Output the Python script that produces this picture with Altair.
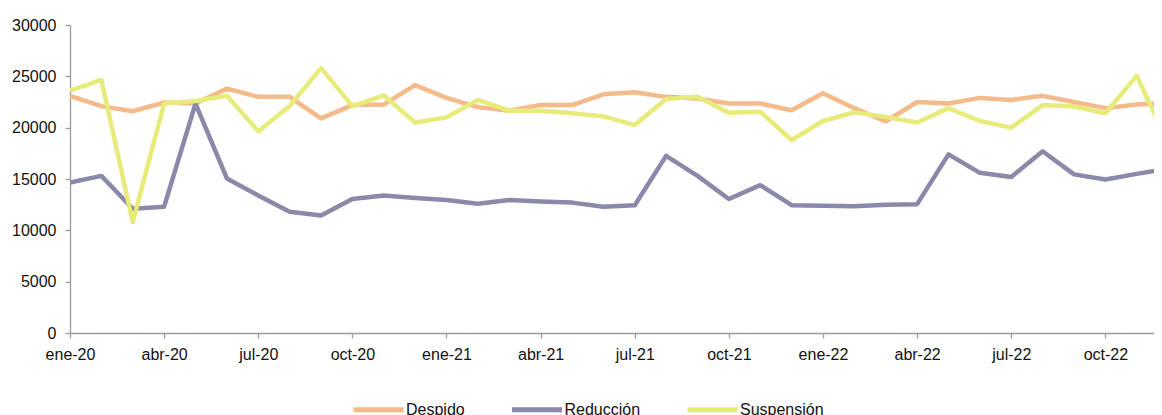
import altair as alt
import pandas as pd

months = ['ene-20', 'feb-20', 'mar-20', 'abr-20', 'may-20', 'jun-20', 'jul-20', 'ago-20', 'sep-20', 'oct-20', 'nov-20', 'dic-20',
          'ene-21', 'feb-21', 'mar-21', 'abr-21', 'may-21', 'jun-21', 'jul-21', 'ago-21', 'sep-21', 'oct-21', 'nov-21', 'dic-21',
          'ene-22', 'feb-22', 'mar-22', 'abr-22', 'may-22', 'jun-22', 'jul-22', 'ago-22', 'sep-22', 'oct-22', 'nov-22', 'dic-22']

despido = [23100, 22100, 21600, 22450, 22350, 23800, 23000, 23000, 20900, 22200, 22250, 24150,
           22900, 22000, 21650, 22200, 22200, 23250, 23450, 23000, 22850, 22350, 22350, 21700,
           23350, 21900, 20600, 22500, 22350, 22900, 22700, 23100, 22500, 21900, 22250, 22400]

reduccion = [14650, 15300, 12100, 12300, 22350, 15050, 13400, 11800, 11450, 13050, 13400, 13150,
             12950, 12600, 12950, 12800, 12700, 12300, 12450, 17250, 15300, 13050, 14400, 12450,
             12400, 12350, 12500, 12550, 17400, 15600, 15200, 17700, 15450, 14950, 15500, 16000]

suspension = [23600, 24650, 10800, 22350, 22600, 23100, 19650, 22100, 25800, 22100, 23150, 20500,
              21000, 22700, 21650, 21650, 21400, 21100, 20250, 22800, 23000, 21450, 21550, 18800,
              20650, 21500, 21050, 20500, 21900, 20650, 20000, 22200, 22050, 21400, 25050, 18500]

series_names = ['Despido', 'Reducción', 'Suspensión']
series_colors = ['#F4BA8A', '#8B89A9', '#E7EB79']

rows = []
for name, vals in zip(series_names, [despido, reduccion, suspension]):
    for i, v in enumerate(vals):
        rows.append({'idx': i, 'mes': months[i], 'serie': name, 'valor': v})
df = pd.DataFrame(rows)

label_arr = "[" + ",".join("'" + m + "'" for m in months) + "][datum.value]"
font = "Liberation Sans, Arial, sans-serif"

chart = alt.Chart(df).mark_line(strokeWidth=4.5, clip=True, strokeJoin='round').encode(
    x=alt.X('idx:Q',
            scale=alt.Scale(domain=[0, 34.55], nice=False, zero=False),
            axis=alt.Axis(title=None, values=list(range(0, 34, 3)), labelExpr=label_arr,
                          grid=False, labelFlush=False, labelOverlap=False,
                          tickSize=5, labelPadding=8, labelFontSize=16, labelFont=font,
                          labelColor='#111111', domainColor='#9A9A9A', tickColor='#9A9A9A',
                          domainWidth=1.3, tickWidth=1.3)),
    y=alt.Y('valor:Q',
            scale=alt.Scale(domain=[0, 30000], nice=False),
            axis=alt.Axis(title=None, values=[0, 5000, 10000, 15000, 20000, 25000, 30000],
                          format='d', grid=False, labelFlush=False,
                          tickSize=5, labelPadding=9, labelFontSize=16, labelFont=font,
                          labelColor='#111111', domainColor='#9A9A9A', tickColor='#9A9A9A',
                          domainWidth=1.3, tickWidth=1.3)),
    color=alt.Color('serie:N',
                    scale=alt.Scale(domain=series_names, range=series_colors),
                    legend=alt.Legend(title=None, orient='none', legendX=281, legendY=357,
                                      direction='horizontal', symbolType='stroke',
                                      symbolSize=2500, symbolStrokeWidth=5,
                                      labelFontSize=16, labelFont=font, labelColor='#111111',
                                      columnPadding=36.5, labelOffset=0, padding=0))
).properties(
    width=1084, height=308,
    autosize=alt.AutoSizeParams(type='none'),
    padding={'left': 62, 'top': 17, 'right': 0, 'bottom': 82}
).configure_view(stroke=None)

chart.save("out.html", embed_options={"renderer": "svg", "actions": False})
